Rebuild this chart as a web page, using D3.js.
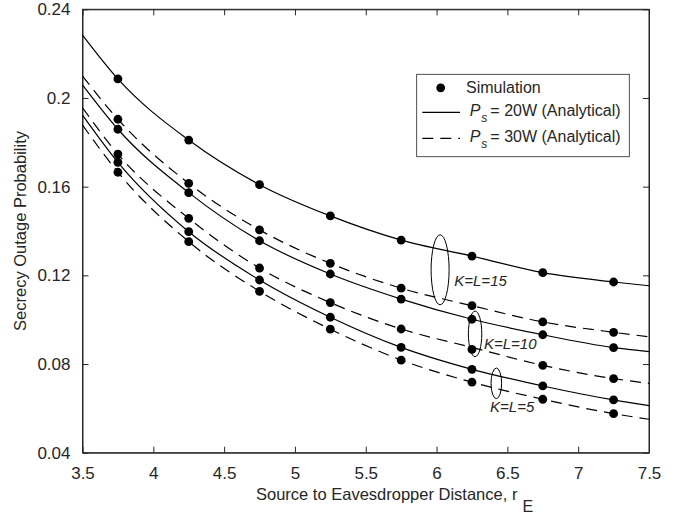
<!DOCTYPE html>
<html>
<head>
<meta charset="utf-8">
<script src="https://cdn.jsdelivr.net/npm/d3@7"></script>
<style>
  body { margin: 0; background: #fff; }
  svg text { font-family: "Liberation Sans", Arial, Helvetica, sans-serif; fill: #262626; }
</style>
</head>
<body>
<script>
// x positions
var xAnalytical = [3.5, 3.75, 4.25, 4.75, 5.25, 5.75, 6.25, 6.75, 7.25, 7.5];
var xSim = [3.75, 4.25, 4.75, 5.25, 5.75, 6.25, 6.75, 7.25];

// analytical curves
var ana20_15 = [0.2284, 0.2086, 0.1810, 0.1609, 0.1468, 0.1359, 0.1287, 0.1212, 0.1170, 0.1153];
var ana30_15 = [0.2099, 0.1904, 0.1615, 0.1405, 0.1254, 0.1142, 0.1063, 0.0990, 0.0943, 0.0923];
var ana20_10 = [0.2059, 0.1859, 0.1573, 0.1356, 0.1206, 0.1093, 0.1002, 0.0932, 0.0874, 0.0856];
var ana30_10 = [0.1956, 0.1747, 0.1457, 0.1233, 0.1077, 0.0958, 0.0875, 0.0794, 0.0734, 0.0713];
var ana20_5  = [0.1923, 0.1710, 0.1397, 0.1179, 0.1011, 0.0875, 0.0776, 0.0701, 0.0638, 0.0612];
var ana30_5  = [0.1878, 0.1665, 0.1352, 0.1128, 0.0957, 0.0818, 0.0718, 0.0641, 0.0576, 0.0551];

// simulation points
var sim20_15 = [0.2086, 0.1810, 0.1609, 0.1468, 0.1359, 0.1287, 0.1212, 0.1170];
var sim30_15 = [0.1904, 0.1615, 0.1405, 0.1254, 0.1142, 0.1063, 0.0990, 0.0943];
var sim20_10 = [0.1859, 0.1573, 0.1356, 0.1206, 0.1093, 0.1002, 0.0932, 0.0874];
var sim30_10 = [0.1747, 0.1457, 0.1233, 0.1077, 0.0958, 0.0866, 0.0794, 0.0734];
var sim20_5  = [0.1710, 0.1397, 0.1179, 0.1011, 0.0875, 0.0776, 0.0701, 0.0638];
var sim30_5  = [0.1665, 0.1352, 0.1128, 0.0957, 0.0818, 0.0718, 0.0641, 0.0576];

var xTicks = [3.5, 4, 4.5, 5, 5.5, 6, 6.5, 7, 7.5];
var yTicks = [0.04, 0.08, 0.12, 0.16, 0.2, 0.24];

var series = [
  {ana: ana20_15, sim: sim20_15, dashed: false},
  {ana: ana30_15, sim: sim30_15, dashed: true},
  {ana: ana20_10, sim: sim20_10, dashed: false},
  {ana: ana30_10, sim: sim30_10, dashed: true},
  {ana: ana20_5,  sim: sim20_5,  dashed: false},
  {ana: ana30_5,  sim: sim30_5,  dashed: true}
];

// K=L group marks: ellipse centre and label position in data units
var groups = [
  {label: "K=L=15", cx: 6.025, cy: 0.1225, rx: 9, ry: 35, lx: 6.125, ly: 0.1153},
  {label: "K=L=10", cx: 6.272, cy: 0.0936, rx: 6.7, ry: 22.8, lx: 6.335, ly: 0.0868},
  {label: "K=L=5",  cx: 6.422, cy: 0.0713, rx: 5.3, ry: 15.3, lx: 6.378, ly: 0.0582}
];

var W = 684, H = 518;
var margin = {top: 9.3, right: 35, bottom: 65.3, left: 82.5};
var width = W - margin.left - margin.right,
    height = H - margin.top - margin.bottom;

var svg = d3.select('body').append('svg')
    .attr('width', W)
    .attr('height', H);

var g = svg.append('g')
    .attr('transform', 'translate(' + margin.left + ',' + margin.top + ')');

var x = d3.scaleLinear().domain([3.5, 7.5]).range([0, width]);
var y = d3.scaleLinear().domain([0.04, 0.24]).range([height, 0]);

var axisColor = '#262626';

// box
g.append('rect')
    .attr('width', width).attr('height', height)
    .attr('fill', 'none').attr('stroke', axisColor).attr('stroke-width', 1);

// axes with inward ticks
var xAxis = g.append('g').attr('transform', 'translate(0,' + height + ')')
    .call(d3.axisBottom(x).tickValues(xTicks).tickSizeInner(-6).tickSizeOuter(0).tickPadding(14)
      .tickFormat(d3.format('')));
var xTop = g.append('g')
    .call(d3.axisTop(x).tickValues(xTicks).tickSizeInner(-6).tickSizeOuter(0).tickFormat(''));
var yAxis = g.append('g')
    .call(d3.axisLeft(y).tickValues(yTicks).tickSizeInner(-6).tickSizeOuter(0).tickPadding(12)
      .tickFormat(d3.format('')));
var yRight = g.append('g').attr('transform', 'translate(' + width + ',0)')
    .call(d3.axisRight(y).tickValues(yTicks).tickSizeInner(-6).tickSizeOuter(0).tickFormat(''));

[xAxis, xTop, yAxis, yRight].forEach(function(a) {
  a.select('.domain').attr('stroke', axisColor);
  a.selectAll('.tick line').attr('stroke', axisColor);
  a.selectAll('.tick text').attr('font-size', '17px').attr('fill', axisColor)
    .style('font-family', '"Liberation Sans", Arial, sans-serif');
});

// analytical lines
var line = d3.line()
    .x(function(d) { return x(d[0]); })
    .y(function(d) { return y(d[1]); })
    .curve(d3.curveMonotoneX);

series.forEach(function(s) {
  g.append('path')
    .datum(d3.zip(xAnalytical, s.ana))
    .attr('d', line)
    .attr('fill', 'none')
    .attr('stroke', '#000')
    .attr('stroke-width', 1.2)
    .attr('stroke-dasharray', s.dashed ? '11,7' : null);
});

// simulation markers
series.forEach(function(s) {
  g.selectAll(null)
    .data(d3.zip(xSim, s.sim))
    .enter().append('circle')
    .attr('cx', function(d) { return x(d[0]); })
    .attr('cy', function(d) { return y(d[1]); })
    .attr('r', 4.4)
    .attr('fill', '#000');
});

// K=L ellipses and labels
groups.forEach(function(k) {
  g.append('ellipse')
    .attr('cx', x(k.cx)).attr('cy', y(k.cy))
    .attr('rx', k.rx).attr('ry', k.ry)
    .attr('fill', 'none').attr('stroke', '#000').attr('stroke-width', 1);
  g.append('text')
    .attr('x', x(k.lx)).attr('y', y(k.ly))
    .attr('font-size', '15px')
    .attr('font-style', 'italic')
    .attr('fill', '#000')
    .text(k.label);
});

// axis labels
var xl = svg.append('text')
    .attr('x', 256).attr('y', 500)
    .attr('font-size', '16.5px');
xl.append('tspan').text('Source to Eavesdropper Distance, r');
xl.append('tspan').attr('dx', 5).attr('dy', 12).attr('font-size', '16px').text('E');

svg.append('text')
    .attr('transform', 'translate(26,' + (margin.top + height / 2) + ') rotate(-90)')
    .attr('text-anchor', 'middle')
    .attr('font-size', '16.5px')
    .text('Secrecy Outage Probability');

// legend
var leg = svg.append('g').attr('transform', 'translate(416.7,74.3)');
leg.append('rect')
    .attr('width', 212.6).attr('height', 82.4)
    .attr('fill', '#fff').attr('stroke', axisColor).attr('stroke-width', 0.8);

leg.append('circle').attr('cx', 24).attr('cy', 13.5).attr('r', 4.4).attr('fill', '#000');
leg.append('text').attr('x', 49.3).attr('y', 19).attr('font-size', '16px').text('Simulation');

var legRows = [
  {dashed: false, power: '= 20W (Analytical)', cy: 38},
  {dashed: true,  power: '= 30W (Analytical)', cy: 64}
];
legRows.forEach(function(r) {
  leg.append('line')
    .attr('x1', 5.6).attr('x2', 43.3)
    .attr('y1', r.cy).attr('y2', r.cy)
    .attr('stroke', '#000').attr('stroke-width', 1.2)
    .attr('stroke-dasharray', r.dashed ? '11,7' : null);
  var t = leg.append('text').attr('x', 53).attr('y', r.cy + 4).attr('font-size', '16px');
  t.append('tspan').attr('font-style', 'italic').text('P');
  t.append('tspan').attr('font-style', 'italic').attr('font-size', '12px').attr('dy', 6).attr('dx', 1).text('s');
  t.append('tspan').attr('dy', -6).attr('dx', 3).text(r.power);
});
</script>
</body>
</html>
